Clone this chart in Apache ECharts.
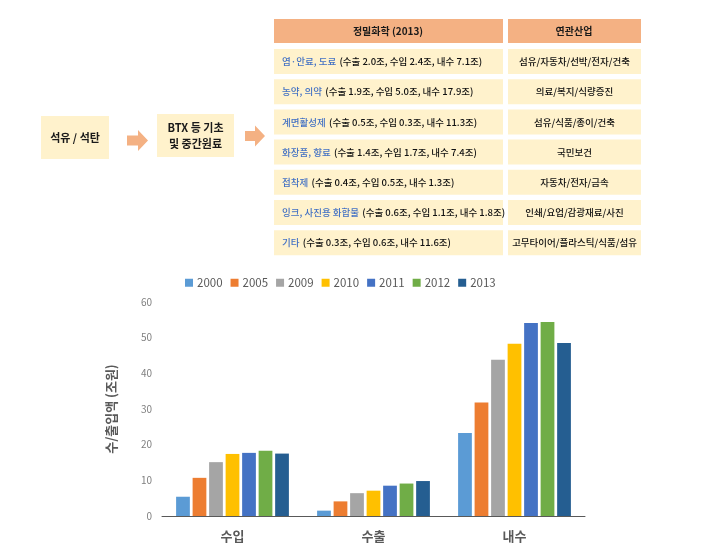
<!DOCTYPE html>
<html>
<head>
<meta charset="utf-8">
<script src="https://cdn.jsdelivr.net/npm/echarts@6/dist/echarts.min.js"></script>
<style>
html,body{margin:0;padding:0;background:#fff;}
#main{width:724px;height:550px;}
</style>
</head>
<body>
<div id="main"></div>
<script>
// ---- Chart data ----
const categories = ['수입', '수출', '내수'];
const years = ['2000', '2005', '2009', '2010', '2011', '2012', '2013'];
const v2000 = [5.4, 1.5, 23.3];
const v2005 = [10.7, 4.1, 31.8];
const v2009 = [15.1, 6.4, 43.8];
const v2010 = [17.4, 7.1, 48.3];
const v2011 = [17.7, 8.5, 54.1];
const v2012 = [18.3, 9.1, 54.4];
const v2013 = [17.5, 9.8, 48.5];
const yTicks = [0, 10, 20, 30, 40, 50, 60];

// ---- Diagram (table) data ----
const tableHeader = ['정밀화학 (2013)', '연관산업'];
const products = ['염·안료, 도료', '농약, 의약', '계면활성제', '화장품, 향료', '접착제', '잉크, 사진용 화합물', '기타'];
const exportTrillion = ['2.0', '1.9', '0.5', '1.4', '0.4', '0.6', '0.3'];
const importTrillion = ['2.4', '5.0', '0.3', '1.7', '0.5', '1.1', '0.6'];
const domesticTrillion = ['7.1', '17.9', '11.3', '7.4', '1.3', '1.8', '11.6'];
const relatedIndustries = ['섬유/자동차/선박/전자/건축', '의료/복지/식량증진', '섬유/식품/종이/건축', '국민보건', '자동차/전자/금속', '인쇄/요업/감광재료/사진', '고무타이어/플라스틱/식품/섬유'];
const flowBoxes = ['석유 / 석탄', 'BTX 등 기초\n및 중간원료'];

const FONT = '"Noto Sans CJK KR", "Noto Sans", sans-serif';
const colors = ['#5B9BD5', '#ED7D31', '#A5A5A5', '#FFC000', '#4472C4', '#70AD47', '#255E91'];
const seriesValues = [v2000, v2005, v2009, v2010, v2011, v2012, v2013];

// build diagram graphics
const graphics = [];
const HEAD = '#F4B183', CELL = '#FFF2CC';
// header
graphics.push({type:'rect', shape:{x:274, y:19, width:229, height:24}, style:{fill:HEAD}, silent:true});
graphics.push({type:'rect', shape:{x:508, y:19, width:133, height:24}, style:{fill:HEAD}, silent:true});
graphics.push({type:'text', x:388, y:31, style:{text:tableHeader[0], fill:'#1a1a1a', font:'bold 10px ' + FONT, align:'center', verticalAlign:'middle'}, silent:true});
graphics.push({type:'text', x:574, y:31, style:{text:tableHeader[1], fill:'#1a1a1a', font:'bold 10px ' + FONT, align:'center', verticalAlign:'middle'}, silent:true});
products.forEach((p, i) => {
  const y = 49 + i * 30.2;
  graphics.push({type:'rect', shape:{x:274, y:y, width:229, height:25}, style:{fill:CELL}, silent:true});
  graphics.push({type:'rect', shape:{x:508, y:y, width:133, height:25}, style:{fill:CELL}, silent:true});
  graphics.push({type:'text', x:282, y:y + 12.5, style:{
    text:'{b|' + p + '} {d|(수출 ' + exportTrillion[i] + '조, 수입 ' + importTrillion[i] + '조, 내수 ' + domesticTrillion[i] + '조)}',
    verticalAlign:'middle', align:'left',
    rich:{
      b:{fill:'#4472C4', font:'500 9.5px ' + FONT},
      d:{fill:'#111111', font:'500 9.5px ' + FONT}
    }
  }, silent:true});
  graphics.push({type:'text', x:574.5, y:y + 12.5, style:{text:relatedIndustries[i], fill:'#111111', font:'500 9.5px ' + FONT, align:'center', verticalAlign:'middle'}, silent:true});
});
// flow boxes
graphics.push({type:'rect', shape:{x:41, y:116, width:68, height:43}, style:{fill:CELL}, silent:true});
graphics.push({type:'text', x:75, y:138, style:{text:flowBoxes[0], fill:'#1a1a1a', font:'bold 11px ' + FONT, align:'center', verticalAlign:'middle'}, silent:true});
graphics.push({type:'rect', shape:{x:157, y:114, width:77, height:43}, style:{fill:CELL}, silent:true});
graphics.push({type:'text', x:195.5, y:136, style:{text:flowBoxes[1], fill:'#1a1a1a', font:'bold 11px ' + FONT, align:'center', verticalAlign:'middle', lineHeight:16}, silent:true});
// arrows
function arrow(x0, cy, shaftLen, headLen, shaftH, headH) {
  return {type:'polygon', shape:{points:[
    [x0, cy - shaftH/2], [x0 + shaftLen, cy - shaftH/2], [x0 + shaftLen, cy - headH/2],
    [x0 + shaftLen + headLen, cy], [x0 + shaftLen, cy + headH/2], [x0 + shaftLen, cy + shaftH/2], [x0, cy + shaftH/2]
  ]}, style:{fill:HEAD}, silent:true};
}
graphics.push(arrow(127, 140.5, 11, 10, 10, 21));
graphics.push(arrow(245, 136, 10, 10, 10, 21));

const chart = echarts.init(document.getElementById('main'), null, {renderer:'canvas'});
chart.setOption({
  backgroundColor:'#ffffff',
  animation:false,
  textStyle:{fontFamily:FONT},
  color:colors,
  graphic:graphics,
  legend:{
    data:years, top:272, left:180, icon:'rect', itemWidth:8, itemHeight:8, itemGap:8,
    textStyle:{color:'#595959', fontSize:11.5, fontFamily:FONT, padding:[0,0,0,-1]}
  },
  grid:{left:162, top:302, width:423, height:214, containLabel:false},
  xAxis:{
    type:'category', data:categories,
    axisLine:{lineStyle:{color:'#595959', width:1}},
    axisTick:{show:false},
    axisLabel:{color:'#595959', fontSize:13, fontWeight:'bold', margin:14, fontFamily:FONT}
  },
  yAxis:{
    type:'value', min:yTicks[0], max:yTicks[yTicks.length-1], interval:yTicks[1]-yTicks[0],
    name:'수/출입액 (조원)', nameLocation:'middle', nameRotate:90, nameGap:44,
    nameTextStyle:{color:'#595959', fontSize:13, fontWeight:'bold', fontFamily:FONT},
    axisLine:{show:false}, axisTick:{show:false}, splitLine:{show:false},
    axisLabel:{color:'#808080', fontSize:10, margin:10, fontFamily:FONT}
  },
  series: years.map((y, i) => ({
    name:y, type:'bar', data:seriesValues[i],
    barGap:'20%', barCategoryGap:'20%',
    itemStyle:{color:colors[i]}
  }))
});
</script>
</body>
</html>
